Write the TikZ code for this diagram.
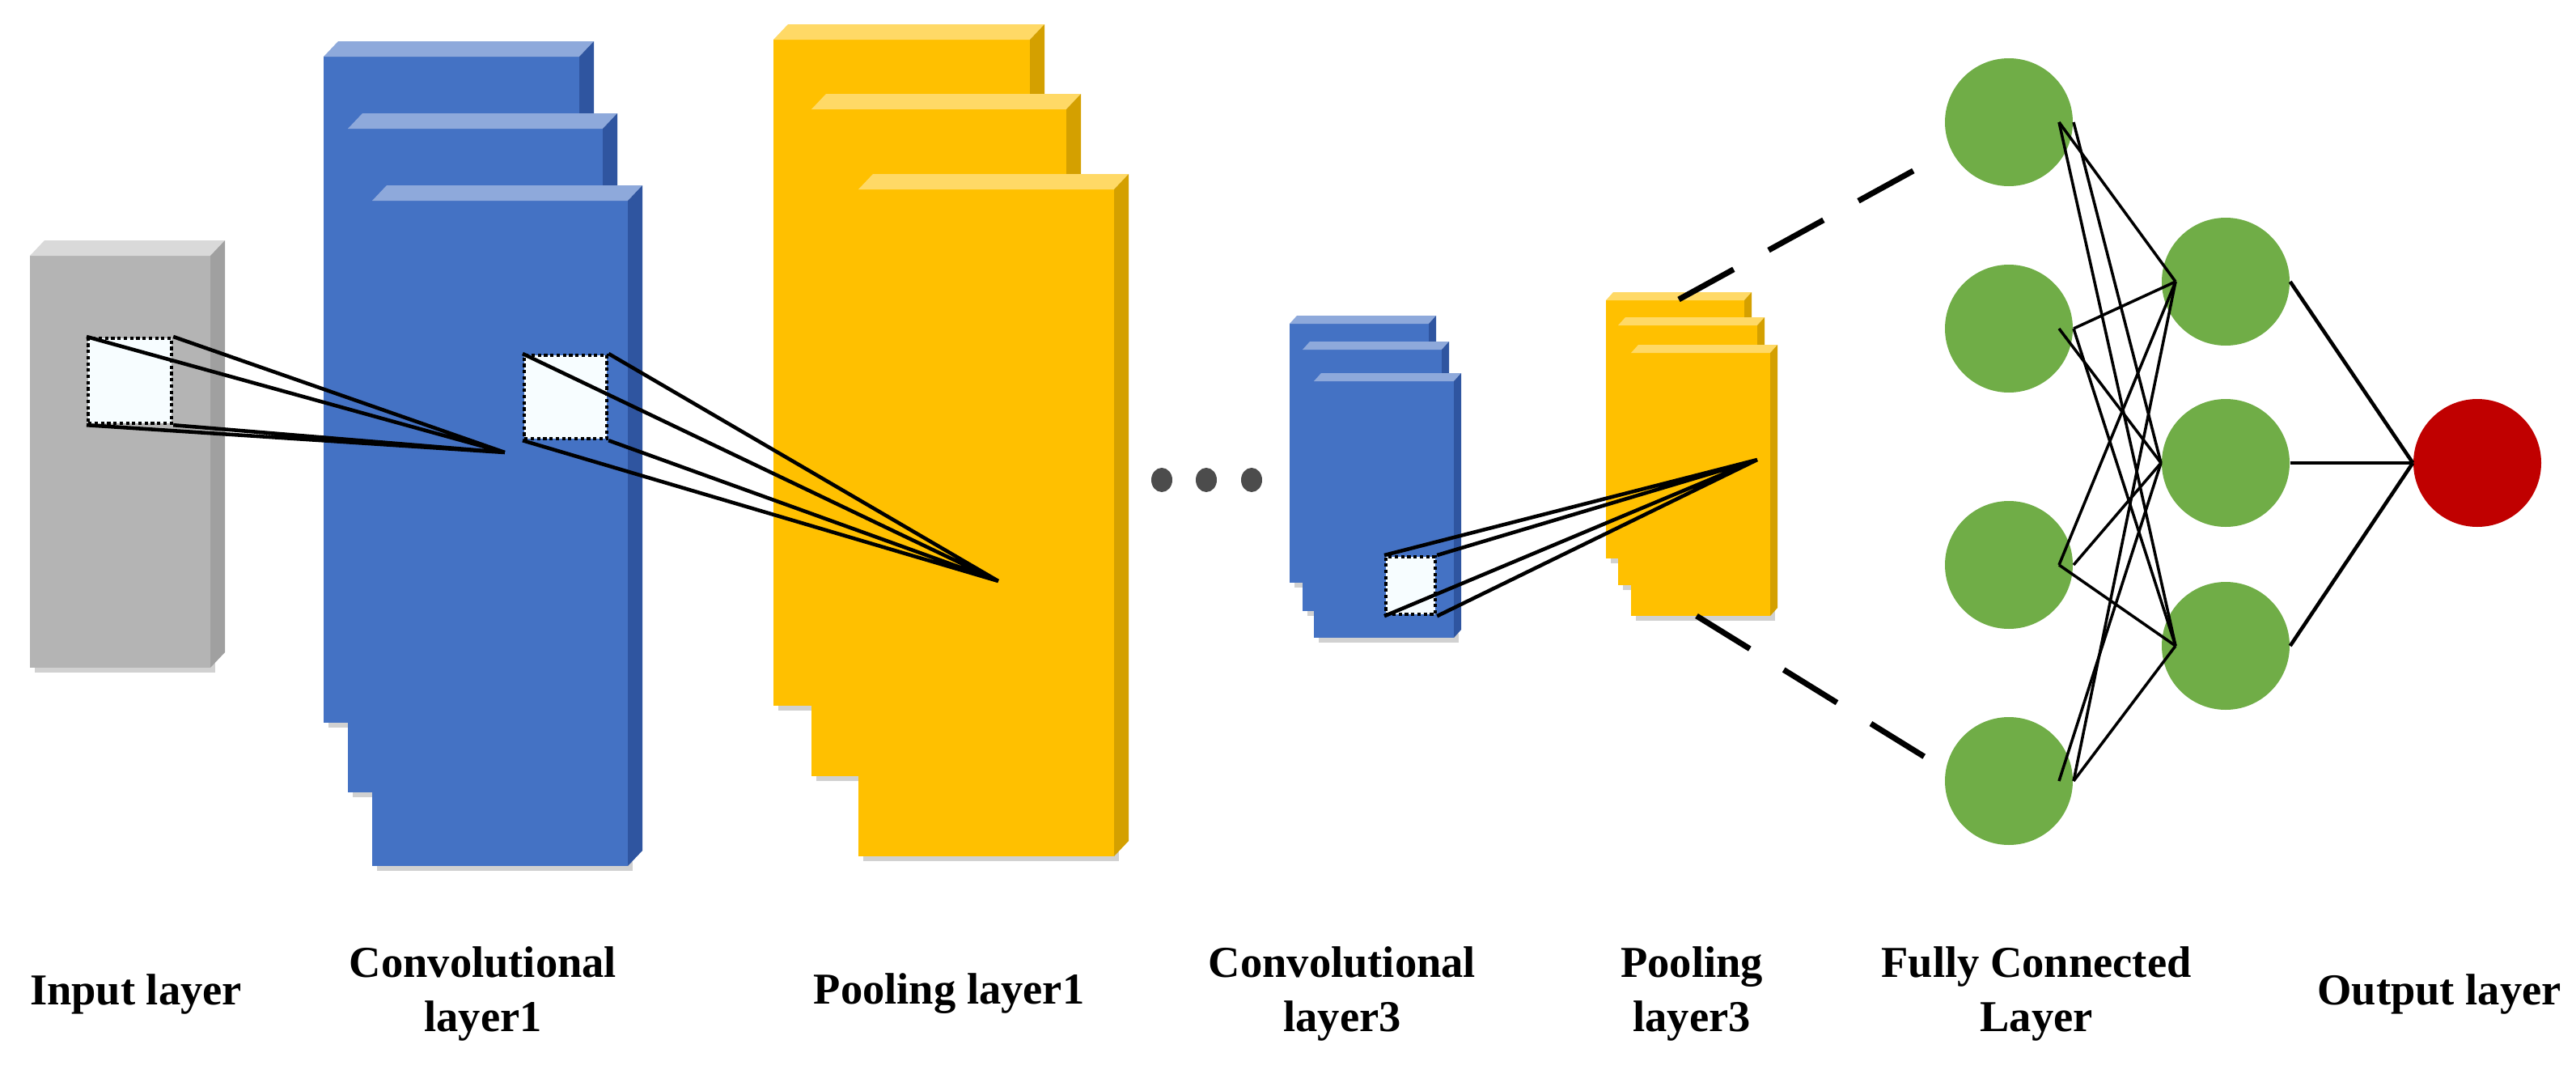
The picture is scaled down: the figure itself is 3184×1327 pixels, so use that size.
\documentclass[tikz,border=0pt]{standalone}
\usepackage{fontspec}
\setmainfont{Liberation Serif}
\usetikzlibrary{calc,shapes.geometric}
\definecolor{bF}{HTML}{4472C4}\definecolor{bT}{HTML}{8EA9DB}\definecolor{bS}{HTML}{2F55A0}
\definecolor{yF}{HTML}{FFC000}\definecolor{yT}{HTML}{FFD966}\definecolor{yS}{HTML}{D4A000}
\definecolor{gF}{HTML}{B4B4B4}\definecolor{gT}{HTML}{D9D9D9}\definecolor{gS}{HTML}{A0A0A0}
\definecolor{nG}{HTML}{70AD47}\definecolor{nR}{HTML}{C00000}
\newcommand\mybox[7]{% x1 y1 x2 y2 dx dy prefix
  \fill[black!18] (#1+6,#2+6) rectangle (#3+6,#4+6);
  \fill[#7F] (#1,#2) rectangle (#3,#4);
  \fill[#7T] (#1,#2) -- (#1+#5,#2-#6) -- (#3+#5,#2-#6) -- (#3,#2) -- cycle;
  \fill[#7S] (#3,#2) -- (#3+#5,#2-#6) -- (#3+#5,#4-#6) -- (#3,#4) -- cycle;
}
\tikzset{
  patch/.style={fill=white!97!cyan, draw=black, densely dotted, line width=1.2pt},
  cone/.style={line width=1.3pt},
  gn/.style={circle, draw=none, fill=nG, minimum size=158*0.01cm},
  rn/.style={circle, draw=none, fill=nR, minimum size=158*0.01cm},
  lab/.style={font=\fontsize{15.5}{19}\selectfont\bfseries, align=center},
  fc/.style={line width=1pt},
  dashl/.style={line width=2pt, dash pattern=on 22pt off 14pt},
}
\begin{document}
\begin{tikzpicture}[x=0.01cm,y=-0.01cm]
\useasboundingbox (0,0) rectangle (3184,1327);
% input
\mybox{37}{316}{260}{825}{18}{19}{g}
% conv1
\mybox{400}{70}{716}{893}{18}{19}{b}
\mybox{430}{159}{745}{979}{18}{19}{b}
\mybox{460}{248}{776}{1070}{18}{19}{b}
% pool1
\mybox{956}{49}{1273}{872}{18}{19}{y}
\mybox{1003}{135}{1318}{959}{18}{19}{y}
\mybox{1061}{234}{1377}{1058}{18}{19}{y}
% conv3
\mybox{1594}{400}{1766}{720}{9}{10}{b}
\mybox{1610}{432}{1782}{755}{9}{10}{b}
\mybox{1624}{471}{1797}{788}{9}{10}{b}
% pool3
\mybox{1985}{371}{2156}{690}{9}{10}{y}
\mybox{2000}{402}{2172}{723}{9}{10}{y}
\mybox{2016}{436}{2188}{761}{9}{10}{y}
% patches and cones
\node[patch, minimum width=103*0.01cm, minimum height=105*0.01cm, anchor=north west] (p1) at (107,416) {};
\coordinate (a1) at (624,559);
\draw[cone] (p1.north west) -- (a1) (p1.north east) -- (a1) (p1.south west) -- (a1) (p1.south east) -- (a1);
\node[patch, minimum width=102*0.01cm, minimum height=103*0.01cm, anchor=north west] (p2) at (646,437) {};
\coordinate (a2) at (1234,718);
\draw[cone] (p2.north west) -- (a2) (p2.north east) -- (a2) (p2.south west) -- (a2) (p2.south east) -- (a2);
\node[patch, minimum width=61*0.01cm, minimum height=71*0.01cm, anchor=north west] (p3) at (1711,686) {};
\coordinate (a3) at (2172,568);
\draw[cone] (p3.north west) -- (a3) (p3.north east) -- (a3) (p3.south west) -- (a3) (p3.south east) -- (a3);
% dots
\foreach \x/\n in {1436/d1,1491/d2,1547/d3}
  \node[ellipse, fill=black!70, minimum width=26*0.01cm, minimum height=30*0.01cm, inner sep=0] (\n) at (\x,593) {};
% neurons
\node[gn] (f1) at (2483,151) {};
\node[gn] (f2) at (2483,406) {};
\node[gn] (f3) at (2483,698) {};
\node[gn] (f4) at (2483,965) {};
\node[gn] (h1) at (2751,348) {};
\node[gn] (h2) at (2751,572) {};
\node[gn] (h3) at (2751,798) {};
\node[rn] (o) at (3062,572) {};
\coordinate (t1) at (2075,370); \coordinate (t2) at (2097,761);
\draw[dashl] (t1) -- ($(f1)+(-78,38)$);
\draw[dashl] (t2) -- ($(f4)+(-72,-10)$);
\foreach \i in {1,...,4}{
  \foreach \j in {1,2,3}{
    \pgfmathsetmacro\oa{isodd(\i+\j) ? 80 : 62}
    \pgfmathsetmacro\ob{isodd(\j) ? 62 : 80}
    \draw[fc] ($(f\i)+(\oa,0)$) -- ($(h\j)+(-\ob,0)$);
  }
}
\foreach \j in {1,2,3} \draw[fc, line width=1.3pt] (h\j.east) -- (o.west);
% labels
\node[lab] (l1) at (168,1228) {Input layer};
\node[lab] (l2) at (597,1228) {Convolutional\\layer1};
\node[lab] (l3) at (1173,1228) {Pooling layer1};
\node[lab] (l4) at (1659,1228) {Convolutional\\layer3};
\node[lab] (l5) at (2091,1228) {Pooling\\layer3};
\node[lab] (l6) at (2517,1228) {Fully Connected\\Layer};
\node[lab] (l7) at (3015,1228) {Output layer};
\end{tikzpicture}
\end{document}
